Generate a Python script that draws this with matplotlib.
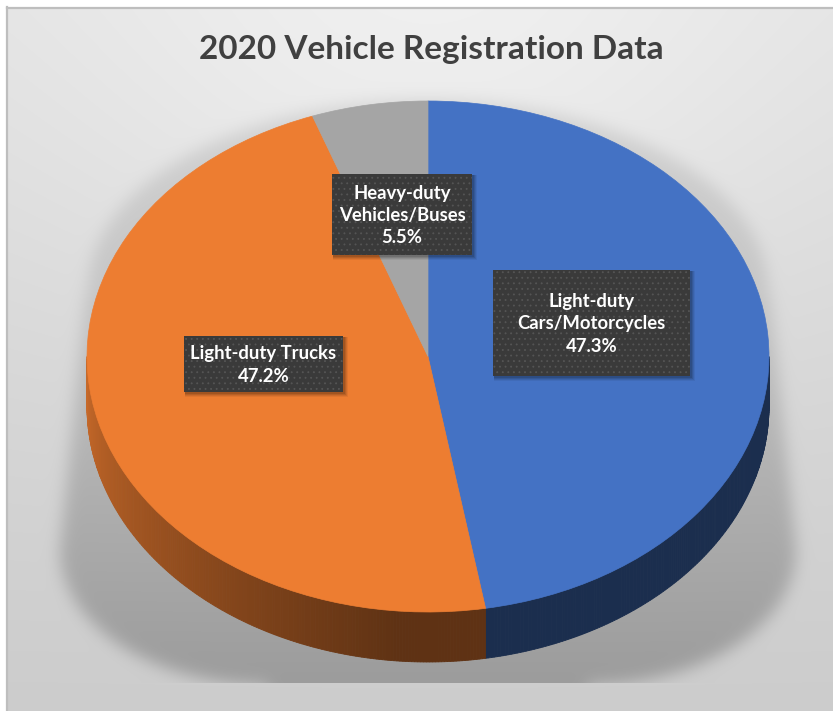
import numpy as np
import matplotlib
matplotlib.use("Agg")
import matplotlib.pyplot as plt
from matplotlib.patches import Wedge, Polygon, Rectangle
from matplotlib.transforms import Affine2D
from matplotlib.colors import to_rgb

# ---------------- data ----------------
title = "2020 Vehicle Registration Data"
categories = ["Light-duty\nCars/Motorcycles", "Light-duty Trucks", "Heavy-duty\nVehicles/Buses"]
shares = [47.3, 47.2, 5.5]
colors = ["#4472C4", "#ED7D31", "#A5A5A5"]

# ---------------- layout ----------------
W, H = 833, 711
fig = plt.figure(figsize=(W / 100, H / 100), dpi=100)
fig.patch.set_facecolor("white")
ax = fig.add_axes([0, 0, 1, 1])
ax.set_xlim(0, W)
ax.set_ylim(H, 0)
ax.axis("off")

FONT = ["Lato", "DejaVu Sans"]

# ---------------- background with soft shadow ----------------
x0, y0 = 7, 7
X, Y = np.meshgrid(np.arange(W) + 0.5, np.arange(H) + 0.5)
bg = 0.885 - 0.085 * (Y - y0) / (H - y0) + 0.055 * np.exp(-(((X - 430) / 380) ** 2 + ((Y - 60) / 320) ** 2))

w = np.zeros_like(Y)
m1 = (Y >= 100) & (Y < 290)
w[m1] = 340 * np.sqrt(np.clip(1 - ((290 - Y[m1]) / 190) ** 2, 0, 1))
m2 = (Y >= 290) & (Y < 550)
w[m2] = 342 + 26 * (Y[m2] - 290) / 260
m3 = (Y >= 550) & (Y <= 700)
w[m3] = 160 + 208 * np.sqrt(np.clip(1 - ((Y[m3] - 550) / 135) ** 2, 0, 1))
mask = (np.abs(X - 428) <= w).astype(float)


def blur(img, sigma):
    r = int(3 * sigma)
    k = np.exp(-0.5 * (np.arange(-r, r + 1) / sigma) ** 2)
    k /= k.sum()
    img = np.apply_along_axis(lambda v: np.convolve(v, k, mode="same"), 0, img)
    img = np.apply_along_axis(lambda v: np.convolve(v, k, mode="same"), 1, img)
    return img


sh = blur(mask, 8)
alpha = sh * (0.10 + 0.14 * np.clip((Y - 290) / 393, 0, 1))
alpha[Y > 683] = 0
img = bg * (1 - alpha)
img[(X < x0) | (Y < y0)] = 1.0
rgb = np.dstack([img, img, img])
ax.imshow(rgb, extent=(0, W, H, 0), interpolation="bilinear", zorder=0)
ax.plot([x0 + 0.5, x0 + 0.5], [y0, H], color="#BEBEBE", lw=1.6, zorder=1)
ax.plot([x0, W], [y0 + 0.5, y0 + 0.5], color="#BEBEBE", lw=1.6, zorder=1)

# ---------------- 3D pie ----------------
cx, cy, a, b, depth = 428, 356.5, 341, 255.5, 50
total = float(sum(shares))
ends = np.cumsum(shares) / total * 360.0
starts = np.concatenate([[0.0], ends[:-1]])


def rim(t):
    r = np.radians(t)
    return np.array([cx + a * np.sin(r), cy - b * np.cos(r)])


def shade(t):
    return 0.40 if t <= 185 else 0.40 + 0.0052 * (t - 185)


for s, e, c in zip(starts, ends, colors):
    lo, hi = max(s, 90.0), min(e, 270.0)
    if hi <= lo:
        continue
    n = int((hi - lo) / 0.5) + 2
    th = np.linspace(lo, hi, n)
    base = np.array(to_rgb(c))
    for t1, t2 in zip(th[:-1], th[1:]):
        col = np.clip(base * shade(0.5 * (t1 + t2)), 0, 1)
        p1, p2 = rim(t1), rim(t2)
        pts = [p1, p2, p2 + [0, depth], p1 + [0, depth]]
        ax.add_patch(Polygon(pts, closed=True, fc=col, ec=col, lw=0.6, zorder=2))

tr = Affine2D().scale(a, -b).translate(cx, cy) + ax.transData
for s, e, c in zip(starts, ends, colors):
    wd = Wedge((0, 0), 1.0, 90 - e, 90 - s, fc=c, ec=c, lw=0.5, zorder=3)
    wd.set_transform(tr)
    ax.add_patch(wd)

# ---------------- data labels ----------------
plt.rcParams["hatch.linewidth"] = 0.6
boxes = [(493, 270, 197, 106), (184, 336, 159, 56), (332, 174, 140, 81)]
for (bx, by, bw, bh), cat, val in zip(boxes, categories, shares):
    for k, al in [(5, 0.06), (4, 0.08), (3, 0.10), (2, 0.12)]:
        ax.add_patch(Rectangle((bx + 1, by + 1), bw + k - 1, bh + k - 1, fc="black", ec="none",
                               alpha=al, zorder=4))
    ax.add_patch(Rectangle((bx, by), bw, bh, fc="#3A3A3A", ec="none", zorder=5))
    ax.add_patch(Rectangle((bx, by), bw, bh, fc="none", ec="#555555", lw=0, hatch="...", zorder=5))
    ax.text(bx + bw / 2, by + bh / 2 + 1, f"{cat}\n{val:.1f}%", ha="center", va="center",
            color="white", fontsize=13.3, fontweight="bold", family=FONT, linespacing=1.36, zorder=6)

# ---------------- title ----------------
ax.text(431, 49, title, ha="center", va="center", color="#404040", fontsize=24,
        fontweight="bold", family=FONT, zorder=6)

fig.savefig("out.png", dpi=100, facecolor="white")
